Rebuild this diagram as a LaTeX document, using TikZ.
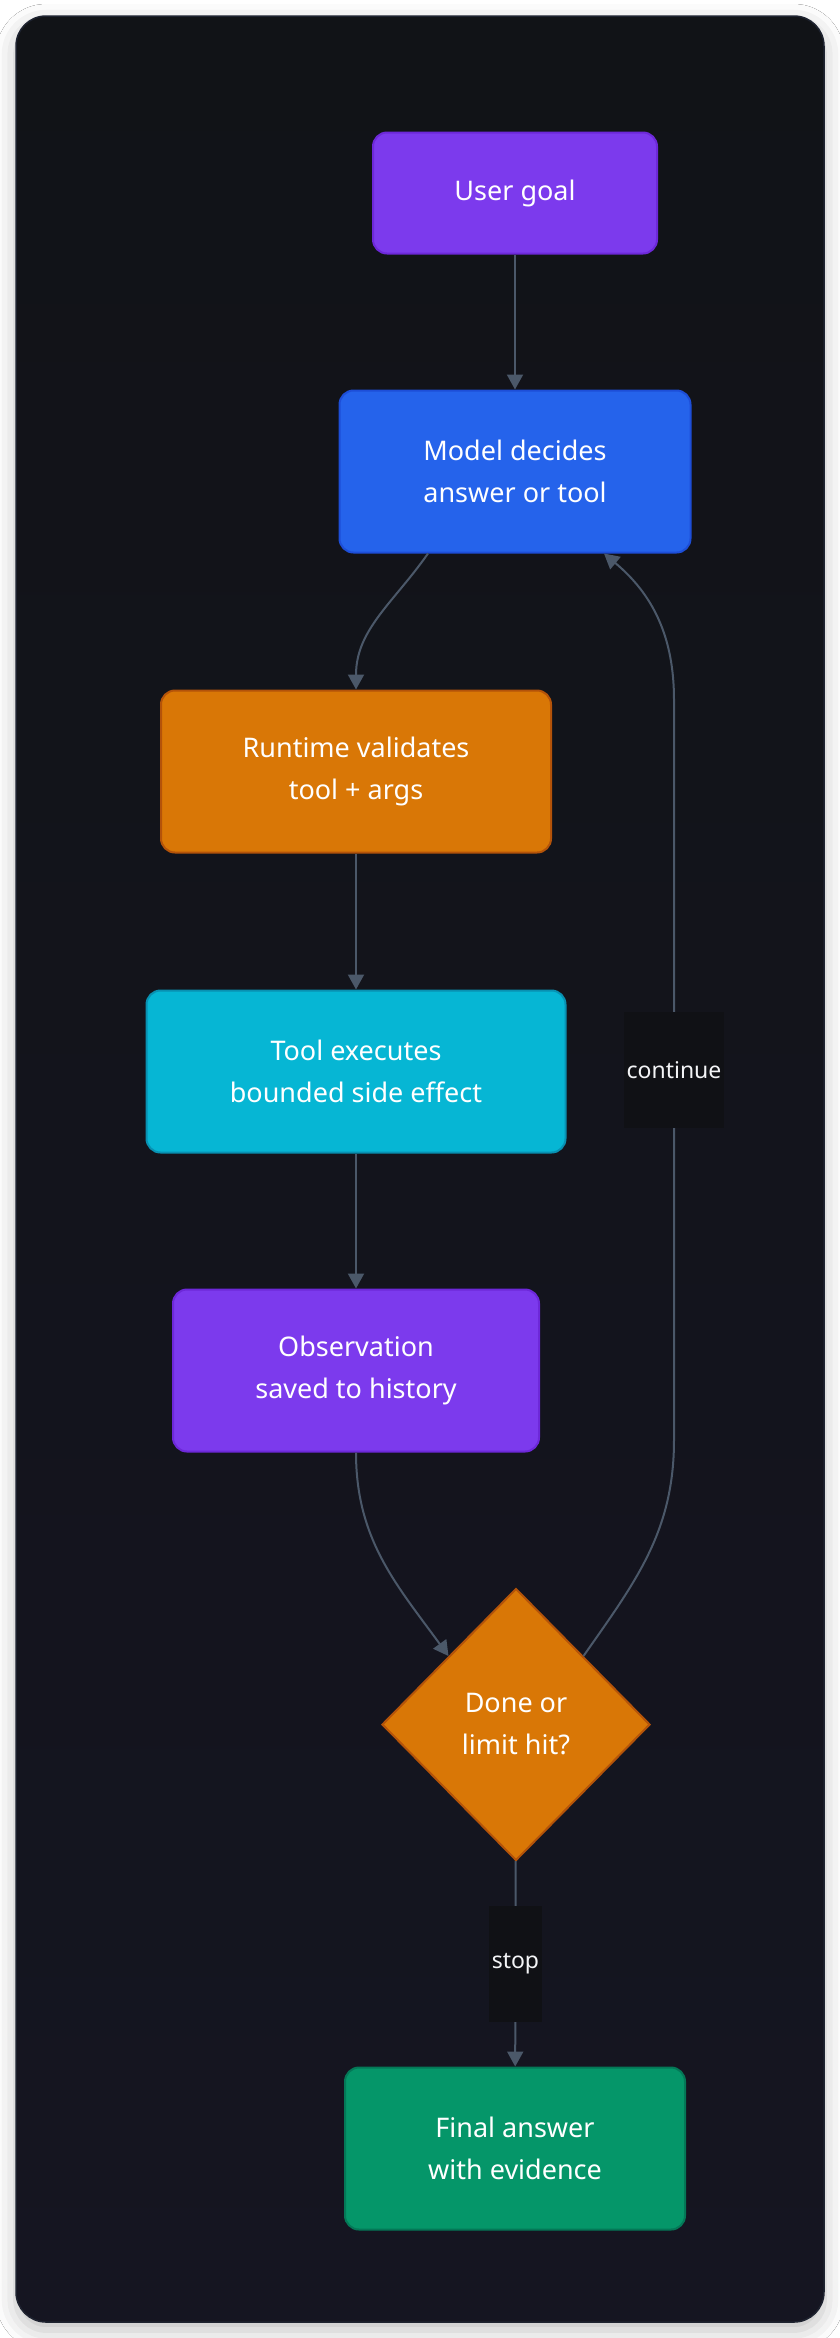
\documentclass[tikz,border=0pt]{standalone}
\usepackage{fontspec}
\setmainfont{Noto Sans}
\usetikzlibrary{positioning,arrows.meta,shapes.geometric,shadows.blur}

\definecolor{cardtop}{HTML}{111317}
\definecolor{cardbot}{HTML}{151521}
\definecolor{cardline}{HTML}{1E2330}
\definecolor{edgecol}{HTML}{4B5869}
\definecolor{lblbg}{HTML}{101115}
\definecolor{lbltext}{HTML}{F3F4F6}
\definecolor{violetfill}{HTML}{7C3AED}
\definecolor{violetline}{HTML}{6D28D9}
\definecolor{bluefill}{HTML}{2563EB}
\definecolor{blueline}{HTML}{1D4ED8}
\definecolor{amberfill}{HTML}{D97706}
\definecolor{amberline}{HTML}{B45309}
\definecolor{cyanfill}{HTML}{06B6D4}
\definecolor{cyanline}{HTML}{0891B2}
\definecolor{greenfill}{HTML}{059669}
\definecolor{greenline}{HTML}{047857}

\tikzset{
  stepbox/.style={rectangle, rounded corners=14pt, line width=2pt, text=white,
    align=center, inner sep=0pt, minimum height=162pt,
    font=\fontsize{27}{42}\selectfont},
  decbox/.style={diamond, line width=2pt, text=white, align=center, inner sep=0pt,
    minimum width=268pt, minimum height=272pt, fill=amberfill, draw=amberline,
    font=\fontsize{27}{42}\selectfont},
  arr/.style={draw=edgecol, line width=2pt, -{Triangle[length=15pt,width=16pt]}},
  lbl/.style={fill=lblbg, text=lbltext, inner xsep=3pt, inner ysep=0pt,
    minimum height=116pt, font=\fontsize{23}{28}\selectfont},
}

\begin{document}
\begin{tikzpicture}[x=1pt,y=-1pt]
	\useasboundingbox (0,0) rectangle (840,2338);
	\fill[white] (0,0) rectangle (840,2338);
	% card
	\path[blur shadow={shadow xshift=0pt, shadow yshift=-8pt, shadow blur radius=20pt, shadow opacity=25},
		top color=cardtop, bottom color=cardbot, draw=cardline, line width=1.5pt, rounded corners=30pt]
		(16,16) rectangle (824,2322);

	\node[stepbox, fill=violetfill, draw=violetline, minimum width=284pt, minimum height=121pt] (goal) at (515,193) {User goal};
	\node[stepbox, fill=bluefill, draw=blueline, minimum width=351pt, below=135pt of goal] (model) {Model decides\\answer or tool};
	\node[stepbox, fill=amberfill, draw=amberline, minimum width=390pt, below=136pt of model, xshift=-159pt] (runtime) {Runtime validates\\tool + args};
	\node[stepbox, fill=cyanfill, draw=cyanline, minimum width=419pt, below=136pt of runtime] (tool) {Tool executes\\bounded side effect};
	\node[stepbox, fill=violetfill, draw=violetline, minimum width=366pt, below=135pt of tool] (obs) {Observation\\saved to history};
	\node[decbox, below=135pt of obs, xshift=160pt] (dec) {Done or\\limit hit?};
	\node[stepbox, fill=greenfill, draw=greenline, minimum width=340pt, below=205pt of dec, xshift=-1pt] (final) {Final answer\\with evidence};

	\coordinate (up1) at (674,1440);
	\coordinate (up2) at (674,700);

	\draw[arr] (goal) -- (model);
	\draw[arr] ([xshift=-87pt]model.south) to[out=-125,in=90] (runtime);
	\draw[arr] (runtime) -- (tool);
	\draw[arr] (tool) -- (obs);
	\draw[arr] (obs) to[out=-90,in=126] (dec.north west);
	\draw[arr] (dec.north east) to[out=55,in=-90] (up1) -- node[lbl] {continue} (up2) to[out=90,in=-40] ([xshift=89pt]model.south);
	\draw[arr] (dec) -- node[lbl] {stop} (final);
\end{tikzpicture}
\end{document}
